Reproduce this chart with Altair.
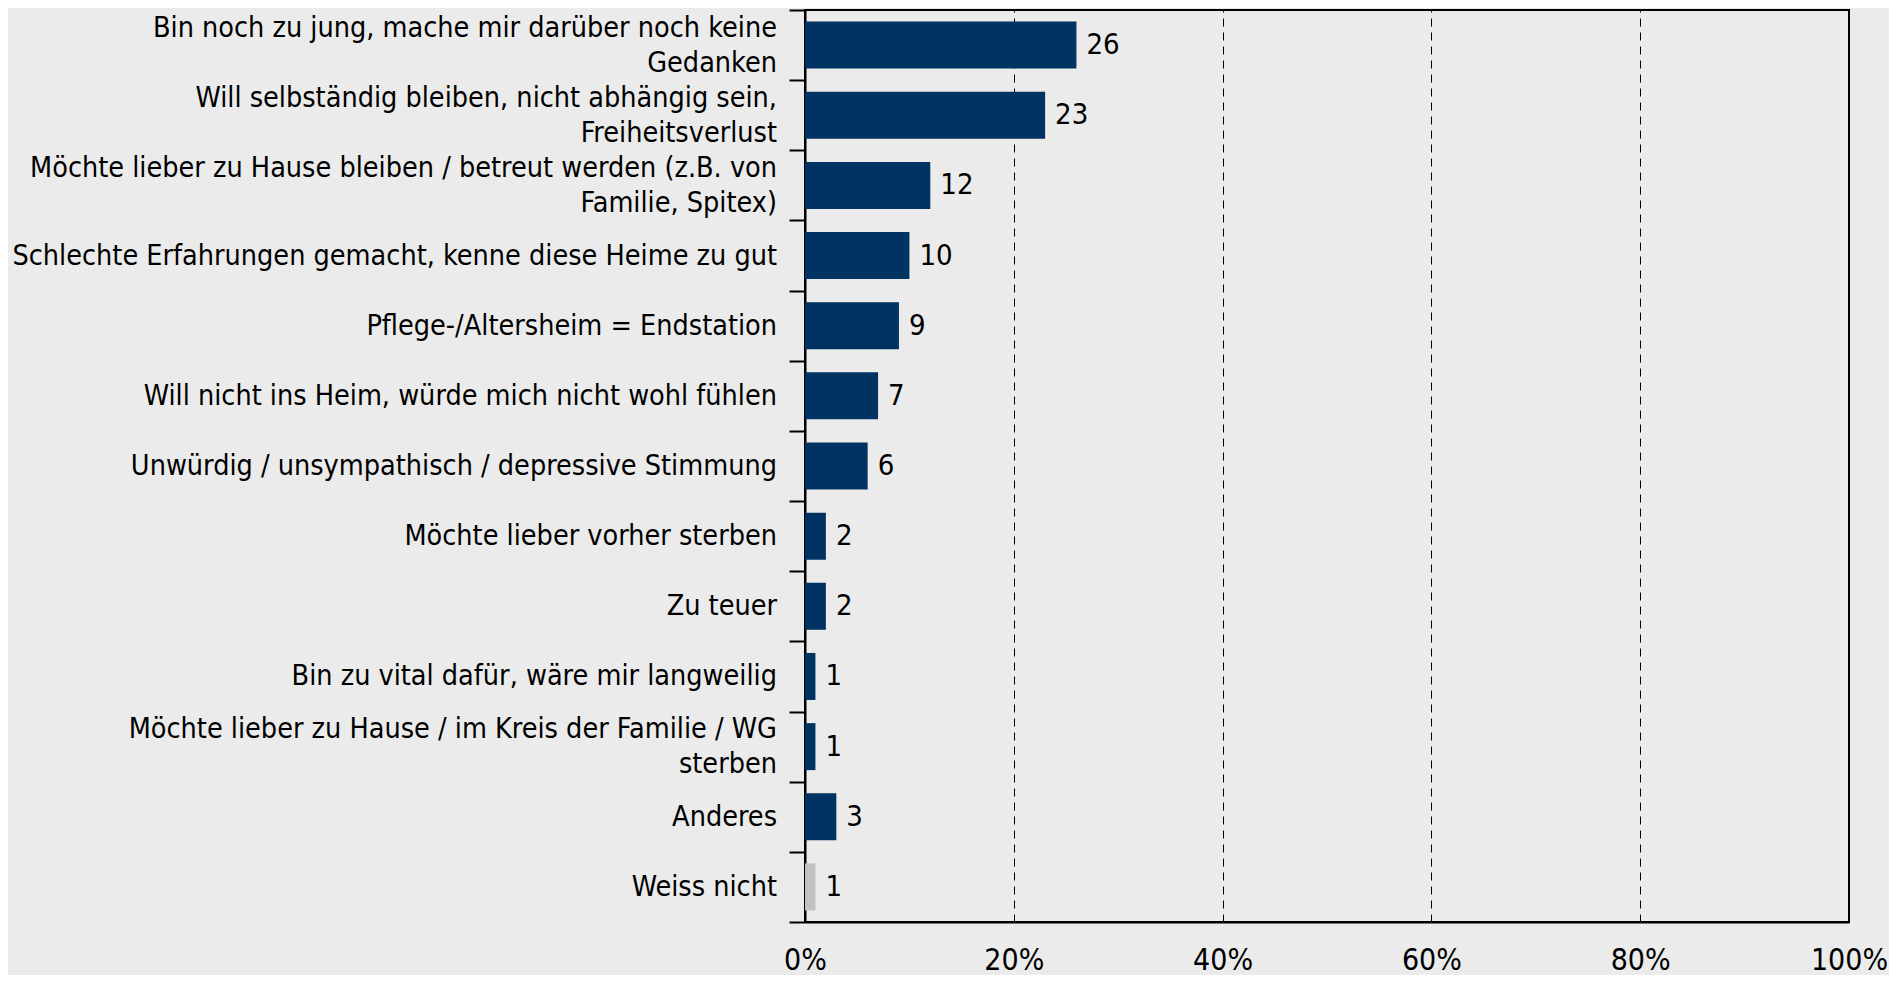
import altair as alt
import pandas as pd

categories = [
    "Bin noch zu jung, mache mir darüber noch keine|Gedanken",
    "Will selbständig bleiben, nicht abhängig sein,|Freiheitsverlust",
    "Möchte lieber zu Hause bleiben / betreut werden (z.B. von|Familie, Spitex)",
    "Schlechte Erfahrungen gemacht, kenne diese Heime zu gut",
    "Pflege-/Altersheim = Endstation",
    "Will nicht ins Heim, würde mich nicht wohl fühlen",
    "Unwürdig / unsympathisch / depressive Stimmung",
    "Möchte lieber vorher sterben",
    "Zu teuer",
    "Bin zu vital dafür, wäre mir langweilig",
    "Möchte lieber zu Hause / im Kreis der Familie / WG|sterben",
    "Anderes",
    "Weiss nicht",
]
values = [26, 23, 12, 10, 9, 7, 6, 2, 2, 1, 1, 3, 1]
x_ticks = [0, 20, 40, 60, 80, 100]

df = pd.DataFrame({"cat": categories, "val": values})

FONT = "DejaVu Sans Condensed, DejaVu Sans"
NAVY = "#003262"
GREY = "#c2c2c2"

y_enc = alt.Y(
    "cat:N",
    sort=categories,
    title=None,
    scale=alt.Scale(paddingInner=0, paddingOuter=0),
    axis=alt.Axis(
        labels=False,
        tickBand="extent",
        tickSize=16,
        tickWidth=2,
        tickColor="#000000",
        domainColor="#000000",
        domainWidth=2,
        grid=False,
    ),
)

x_enc = alt.X(
    "val:Q",
    title=None,
    scale=alt.Scale(domain=[0, 100], nice=False),
    axis=alt.Axis(
        values=x_ticks,
        labelExpr="datum.value + '%'",
        labelFont=FONT,
        labelFontSize=30,
        labelColor="#000000",
        labelPadding=23,
        labelFlush=False,
        ticks=False,
        tickSize=0,
        grid=True,
        gridDash=[8, 6],
        gridColor="#000000",
        gridWidth=1,
        domainColor="#000000",
        domainWidth=2,
    ),
)

base = alt.Chart(df)

bars = base.mark_bar(size=47).encode(
    y=y_enc,
    x=x_enc,
    color=alt.condition(alt.datum.cat == "Weiss nicht", alt.value(GREY), alt.value(NAVY)),
)

values_text = base.mark_text(
    align="left", baseline="middle", dx=10, font=FONT, fontSize=29, color="#000000"
).encode(
    y=alt.Y("cat:N", sort=categories),
    x=alt.X("val:Q"),
    text=alt.Text("val:Q"),
)

label_style = dict(
    align="right", baseline="middle", font=FONT, fontSize=28.5, lineHeight=35,
    lineBreak="|", color="#000000", dx=-28,
)

labels_single = base.transform_filter("indexof(datum.cat, '|') < 0").mark_text(
    **label_style
).encode(
    y=alt.Y("cat:N", sort=categories),
    x=alt.value(0),
    text="cat:N",
)

labels_multi = base.transform_filter("indexof(datum.cat, '|') >= 0").mark_text(
    dy=-17.5, **label_style
).encode(
    y=alt.Y("cat:N", sort=categories),
    x=alt.value(0),
    text="cat:N",
)

chart = (
    alt.layer(bars, values_text, labels_single, labels_multi)
    .properties(
        width=1044,
        height=912,
        autosize=alt.AutoSizeParams(type="none"),
        padding={"left": 797, "top": 2, "right": 40, "bottom": 53},
        background="#ebebeb",
    )
    .configure_view(stroke="#000000", strokeWidth=2)
)

chart.save("out.html", embed_options={"renderer": "svg", "actions": False})
